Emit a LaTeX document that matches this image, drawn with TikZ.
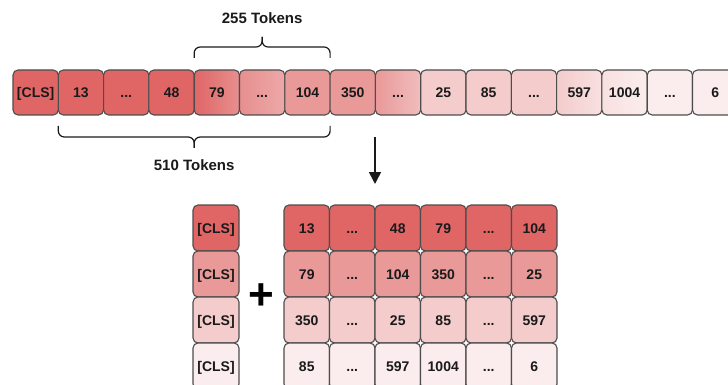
\documentclass[tikz,border=0pt]{standalone}
\usepackage{fontspec}
\setmainfont{Liberation Sans}
\usetikzlibrary{arrows.meta,calc}
\definecolor{cA}{HTML}{E06666}
\definecolor{cAB}{HTML}{E78F8F}
\definecolor{cB}{HTML}{EA9999}
\definecolor{cBB}{HTML}{EDA8A8}
\definecolor{cBC}{HTML}{F0BDBD}
\definecolor{cC}{HTML}{F4CCCC}
\definecolor{cCD}{HTML}{F8E0E0}
\definecolor{cD}{HTML}{FBEDED}
\definecolor{bordc}{HTML}{4D4D4D}
\definecolor{txtc}{HTML}{1A1A1A}
\newcommand\myelp{...}
\tikzset{
  tok/.style={draw=bordc, line width=1.1pt, rounded corners=5pt,
    minimum width=45.3pt, minimum height=45pt, inner sep=0pt, outer sep=0pt,
    text height=10.2pt, text depth=0pt,
    font=\fontsize{14}{16}\selectfont\bfseries, text=txtc, anchor=north west},
  cell/.style={tok, minimum width=45.5pt, minimum height=46pt},
  lbl/.style={font=\fontsize{15}{18}\selectfont\bfseries, text=txtc, inner sep=0pt},
  brc/.style={draw=txtc, line width=1.2pt, rounded corners=6pt}
}
\begin{document}
\begin{tikzpicture}[x=1pt,y=-1pt]
\useasboundingbox (0,0) rectangle (728,385);
\clip (0,0) rectangle (728,385);
% top row
\foreach \i/\t/\l/\r in {0/{[CLS]}/cA/cA, 1/13/cA/cA, 2/\myelp/cA/cA, 3/48/cA/cA,
  4/79/cA/cAB, 5/\myelp/cAB/cBB, 6/104/cB/cB, 7/350/cB/cB, 8/\myelp/cB/cBC,
  9/25/cC/cC, 10/85/cC/cC, 11/\myelp/cC/cC, 12/597/cC/cCD, 13/1004/cCD/cD,
  14/\myelp/cD/cD, 15/6/cD/cD}
  \node[tok, left color=\l, right color=\r] (t\i) at ({13+45.3*\i},70) {\t};
% braces
\coordinate (b1a) at ($(t4.north west)+(0,-12)$);
\coordinate (b1b) at ($(t6.north east)+(0,-12)$);
\coordinate (b1m) at ($(b1a)!0.5!(b1b)$);
\draw[brc] (b1a) -- ++(0,-11) -| ($(b1m)+(0,-21)$);
\draw[brc] (b1b) -- ++(0,-11) -| ($(b1m)+(0,-21)$);
\node[lbl] (l255) at ($(b1m)+(0,-40)$) {255 Tokens};
\coordinate (b2a) at ($(t1.south west)+(0,11)$);
\coordinate (b2b) at ($(t6.south east)+(0,11)$);
\coordinate (b2m) at ($(b2a)!0.5!(b2b)$);
\draw[brc] (b2a) -- ++(0,11) -| ($(b2m)+(0,22)$);
\draw[brc] (b2b) -- ++(0,11) -| ($(b2m)+(0,22)$);
\node[lbl] (l510) at ($(b2m)+(0,39)$) {510 Tokens};
% arrow
\coordinate (aS) at (375,137);
\coordinate (aE) at (375,184);
\draw[line width=1.6pt, draw=txtc, -{Triangle[length=12pt,width=12pt]}] (aS) -- (aE);
% bottom
\foreach \r/\c in {1/cA,2/cB,3/cC,4/cD}
  \node[cell, fill=\c, minimum width=46pt] (cls\r) at (193,{205+46*(\r-1)}) {[CLS]};
\node[font=\fontsize{44}{44}\selectfont\bfseries, text=black, inner sep=0pt] (plus) at (261,297) {+};
\foreach \r/\c/\la/\lb/\lc/\ld/\le/\lf in {
  1/cA/13/\myelp/48/79/\myelp/104,
  2/cB/79/\myelp/104/350/\myelp/25,
  3/cC/350/\myelp/25/85/\myelp/597,
  4/cD/85/\myelp/597/1004/\myelp/6}{
  \foreach \k/\v in {1/\la,2/\lb,3/\lc,4/\ld,5/\le,6/\lf}
    \node[cell, fill=\c] (g\r-\k) at ({284+45.5*(\k-1)},{205+46*(\r-1)}) {\v};
}
\end{tikzpicture}
\end{document}
